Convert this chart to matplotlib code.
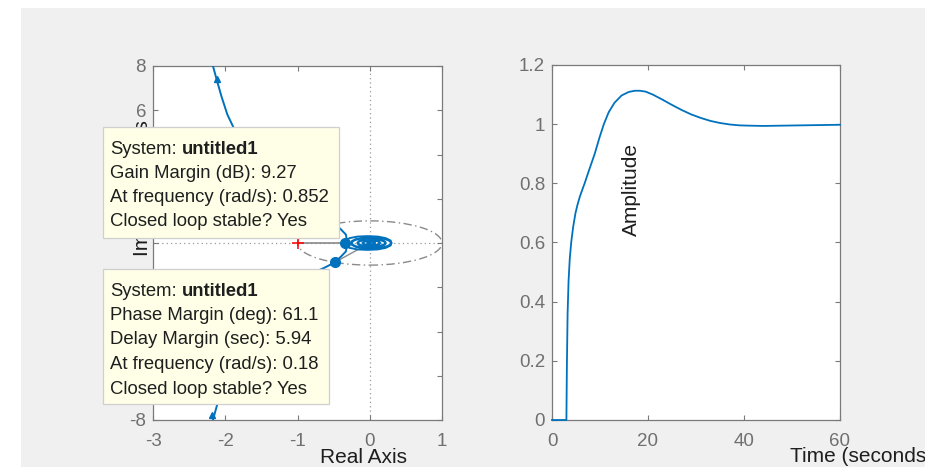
import matplotlib
matplotlib.use("Agg")
import matplotlib.pyplot as plt
from matplotlib.patches import Rectangle, Circle

plt.rcParams['font.family'] = ['Liberation Sans', 'DejaVu Sans']

W, H = 934, 467

# ---- Nyquist diagram: positive-frequency branch (low frequency -> origin) ----
nyq_re = [-2.20, -2.17, -2.12, -2.05, -1.97, -1.89, -1.79, -1.67, -1.53, -1.37,
          -1.19, -1.00, -0.81, -0.64, -0.484, -0.40, -0.33, -0.32, -0.344,
          -0.33, -0.28, -0.17, -0.03, 0.11, 0.22, 0.29, 0.30, 0.26, 0.17,
          0.05, -0.08, -0.19, -0.25, -0.25, -0.21, -0.12, -0.01, 0.10, 0.18,
          0.22, 0.20, 0.13, 0.03, -0.07, -0.14, -0.17, -0.15, -0.09, 0.00,
          0.08, 0.13, 0.14, 0.11, 0.04, -0.03, -0.08, -0.10, -0.08, -0.03,
          0.03, 0.07, 0.07, 0.04, 0.00, -0.03, -0.03, 0.00, 0.00]
nyq_im = [-8.6, -8.0, -7.4, -6.6, -5.8, -5.25, -4.55, -3.85, -3.2, -2.6,
          -2.05, -1.65, -1.38, -1.14, -0.875, -0.62, -0.38, -0.18, 0.0,
          0.12, 0.22, 0.29, 0.31, 0.29, 0.22, 0.11, -0.01, -0.12, -0.21,
          -0.25, -0.24, -0.18, -0.08, 0.03, 0.13, 0.20, 0.22, 0.20, 0.13,
          0.03, -0.07, -0.14, -0.17, -0.16, -0.10, -0.02, 0.07, 0.13, 0.15,
          0.13, 0.07, -0.01, -0.08, -0.11, -0.11, -0.07, 0.00, 0.06, 0.08,
          0.08, 0.04, -0.02, -0.05, -0.05, -0.03, 0.01, 0.02, 0.00]

gm_point = (-0.344, 0.0)      # gain margin crossing
pm_point = (-0.484, -0.875)   # phase margin crossing
arrow_re = [-2.12, -2.18]
arrow_im = [7.42, -7.78]

nyq_xlim = (-3, 1)
nyq_ylim = (-8, 8)
nyq_xticks = [-3, -2, -1, 0, 1]
nyq_xtick_labels = ['-3', '-2', '-1', '0', '1']
nyq_yticks = [-8, -6, -4, -2, 0, 2, 4, 6, 8]
# labels sitting under the data tips are left blank
nyq_ytick_labels = ['-8', '', '', '', '', '', '', '6', '8']

# ---- Step response ----
step_t = [0, 3.0, 3.1, 3.25, 3.45, 3.7, 4.0, 4.4, 4.9, 5.3, 5.8, 6.3, 6.8,
          7.5, 8.2, 8.9, 9.9, 10.8, 11.8, 13, 14.5, 16, 17.3, 18.3, 19.5,
          21, 23, 25, 27, 29, 31, 33, 35, 37, 39, 41, 44, 48, 52, 56, 60]
step_y = [0, 0, 0.18, 0.36, 0.47, 0.545, 0.60, 0.652, 0.70, 0.727, 0.755,
          0.778, 0.80, 0.834, 0.867, 0.90, 0.955, 1.0, 1.04, 1.072, 1.097,
          1.109, 1.113, 1.113, 1.110, 1.100, 1.083, 1.065, 1.048, 1.033,
          1.021, 1.011, 1.004, 0.999, 0.996, 0.995, 0.994, 0.995, 0.996,
          0.997, 0.998]

step_xlim = (0, 60)
step_ylim = (0, 1.2)
step_xticks = [0, 20, 40, 60]
step_xtick_labels = ['0', '20', '40', '60']
step_yticks = [0, 0.2, 0.4, 0.6, 0.8, 1.0, 1.2]
step_ytick_labels = ['0', '0.2', '0.4', '0.6', '0.8', '1', '1.2']

gm_text = ['Gain Margin (dB): 9.27', 'At frequency (rad/s): 0.852',
           'Closed loop stable? Yes']
pm_text = ['Phase Margin (deg): 61.1', 'Delay Margin (sec): 5.94',
           'At frequency (rad/s): 0.18', 'Closed loop stable? Yes']
system_name = 'untitled1'

BLUE = '#0072BD'
AXGRAY = '#7a7a7a'
TICKGRAY = '#707070'
TXT = '#1e1e1e'


def fx(px):
    return px / W


def fy(py):
    return 1 - py / H


fig = plt.figure(figsize=(W / 100, H / 100), dpi=100, facecolor='white')

# panel background
fig.add_artist(Rectangle((fx(21), 0), fx(925) - fx(21), fy(8), transform=fig.transFigure,
                         facecolor='#f0f0f0', edgecolor='none', zorder=-10))


def style_axes(ax):
    ax.set_facecolor('white')
    for s in ax.spines.values():
        s.set_color(AXGRAY)
        s.set_linewidth(0.9)
    ax.tick_params(direction='in', length=3.5, width=0.8, color=AXGRAY,
                   top=True, right=True, labelsize=13.5, labelcolor=TICKGRAY)
    ax.tick_params(axis='x', pad=9)
    ax.tick_params(axis='y', pad=5)


# ---- left: Nyquist ----
ax1 = fig.add_axes([fx(153), fy(420), fx(442) - fx(153), fy(66) - fy(420)])
style_axes(ax1)
ax1.set_xlim(*nyq_xlim)
ax1.set_ylim(*nyq_ylim)
ax1.set_xticks(nyq_xticks, nyq_xtick_labels)
ax1.set_yticks(nyq_yticks, nyq_ytick_labels)

ax1.axhline(0, color='#9a9a9a', lw=0.9, ls=(0, (1, 2.5)), zorder=1)
ax1.axvline(0, color='#9a9a9a', lw=0.9, ls=(0, (1, 2.5)), zorder=1)
ax1.add_patch(Circle((0, 0), 1.0, fill=False, edgecolor='#8a8a8a', lw=1.0,
                     ls=(0, (6, 2.5, 1, 2.5)), zorder=2))
ax1.plot([-1, gm_point[0]], [0, gm_point[1]], color='#8a8a8a', lw=1.2, zorder=2)
ax1.plot([0, pm_point[0]], [0, pm_point[1]], color='#8a8a8a', lw=1.0, zorder=2)

ax1.plot(nyq_re, nyq_im, color=BLUE, lw=1.4, zorder=3)
ax1.plot(nyq_re, [-v for v in nyq_im], color=BLUE, lw=1.4, zorder=3)
ax1.plot(arrow_re, arrow_im, ls='none', marker='^', ms=5, color=BLUE, zorder=4)
ax1.plot(-1, 0, marker='+', ms=9, mew=1.1, color='red', zorder=4)
ax1.plot([gm_point[0], pm_point[0]], [gm_point[1], pm_point[1]], ls='none',
         marker='o', ms=7, color=BLUE, zorder=5)

# ---- right: step response ----
ax2 = fig.add_axes([fx(552), fy(420), fx(840) - fx(552), fy(65) - fy(420)])
style_axes(ax2)
ax2.set_xlim(*step_xlim)
ax2.set_ylim(*step_ylim)
ax2.set_xticks(step_xticks, step_xtick_labels)
ax2.set_yticks(step_yticks, step_ytick_labels)
ax2.plot(step_t, step_y, color=BLUE, lw=1.3, clip_on=False, zorder=3)

# ---- axis titles ----
LAB = 15
fig.text(fx(364), fy(463), 'Real Axis', fontsize=LAB, color=TXT,
         ha='center', va='baseline')
fig.text(fx(790), fy(462), 'Time (seconds)', fontsize=LAB, color=TXT,
         ha='left', va='baseline')
fig.text(fx(148), fy(188), 'Imaginary Axis', fontsize=LAB, color=TXT, rotation=90,
         rotation_mode='anchor', ha='center', va='baseline')
fig.text(fx(637), fy(189), 'Amplitude', fontsize=LAB, color=TXT, rotation=90,
         rotation_mode='anchor', ha='center', va='baseline')

# ---- data tips ----
BOX_FC = '#ffffe8'
BOX_EC = '#cfcfcf'
FS = 13.3


def data_tip(x0, y0, x1, y1, lines, baselines):
    fig.add_artist(Rectangle((fx(x0), fy(y1)), fx(x1) - fx(x0), fy(y0) - fy(y1),
                             transform=fig.transFigure, facecolor=BOX_FC,
                             edgecolor=BOX_EC, lw=0.9, zorder=20))
    fig.text(fx(110), fy(baselines[0]), 'System:', fontsize=FS, color=TXT,
             va='baseline', zorder=21)
    fig.text(fx(182), fy(baselines[0]), system_name, fontsize=FS, color=TXT,
             fontweight='bold', va='baseline', zorder=21)
    for s, b in zip(lines, baselines[1:]):
        fig.text(fx(110), fy(b), s, fontsize=FS, color=TXT, va='baseline', zorder=21)


data_tip(103, 127, 339, 238, gm_text, [153.5, 177.5, 202, 226.5])
data_tip(103, 269, 329, 404, pm_text, [295.5, 320, 344.5, 369, 393.5])

# right-hand margin of the panel
fig.add_artist(Rectangle((fx(925), 0), 1 - fx(925), 1, transform=fig.transFigure,
                         facecolor='white', edgecolor='none', zorder=30))

fig.savefig('out.png', dpi=100, facecolor='white')
